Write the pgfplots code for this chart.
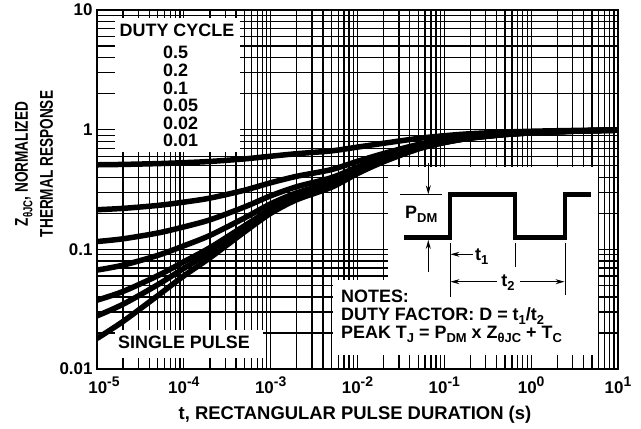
\documentclass[border=0pt]{standalone}
\usepackage{fontspec}
\setmainfont{Liberation Sans}
\usepackage{graphicx}
\usepackage{pgfplots}
\pgfplotsset{compat=1.18}
\usetikzlibrary{arrows.meta}
\newcommand\sub[1]{\raisebox{-0.24em}{\fontsize{13}{13}\selectfont #1}}
\newcommand\tsup[1]{10\raisebox{0.42em}{\fontsize{14}{14}\selectfont #1}}
\newcommand\fs[1]{\fontsize{#1}{#1}\selectfont\bfseries}
\begin{document}
\begin{tikzpicture}
\useasboundingbox (0,0) rectangle (641bp,-429bp);
\begin{axis}[
  at={(97bp,-369bp)}, anchor=south west,
  scale only axis, width=521bp, height=359bp,
  xmode=log, ymode=log,
  xmin=1e-5, xmax=10, ymin=0.01, ymax=10,
  xtick={1e-5,1e-4,1e-3,1e-2,1e-1,1,10},
  xticklabels={\hspace*{14bp}\tsup{-5},\tsup{-4},\tsup{-3},\tsup{-2},\tsup{-1},\tsup{0},\tsup{1}},
  ytick={0.01,0.1,1,10}, yticklabels={0.01,0.1,1,10},
  minor xtick={2e-5,3e-5,4e-5,5e-5,6e-5,7e-5,8e-5,9e-5,
               2e-4,3e-4,4e-4,5e-4,6e-4,7e-4,8e-4,9e-4,
               2e-3,3e-3,4e-3,5e-3,6e-3,7e-3,8e-3,9e-3,
               2e-2,3e-2,4e-2,5e-2,6e-2,7e-2,8e-2,9e-2,
               0.2,0.3,0.4,0.5,0.6,0.7,0.8,0.9,
               2,3,4,5,6,7,8,9},
  minor ytick={0.02,0.03,0.04,0.05,0.06,0.07,0.08,0.09,
               0.2,0.3,0.4,0.5,0.6,0.7,0.8,0.9,
               2,3,4,5,6,7,8,9},
  grid=both,
  major grid style={line width=1.3bp, black},
  minor grid style={line width=1.3bp, black},
  major tick length=0pt, minor tick length=0pt,
  axis line style={line width=1.8bp},
  tick label style={font=\fs{17}},
  xticklabel style={yshift=-4bp},
  yticklabel style={xshift=-1bp},
  zc/.style={black, no markers, line width=5.5bp, smooth, tension=0.5, line cap=butt},
]
% white annotation boxes
\fill[white] (rel axis cs:0.0345,0.6045) rectangle (rel axis cs:0.2745,0.9777);
\fill[white] (rel axis cs:0.0345,0.0306) rectangle (rel axis cs:0.3186,0.1086);
\fill[white] (rel axis cs:0.5585,0.2479) rectangle (rel axis cs:0.9616,0.5627);
\fill[white] (rel axis cs:0.4530,0.0390) rectangle (rel axis cs:0.9616,0.2479);
% D = 0.5
\addplot[zc] coordinates {(1e-5,0.509)(2e-5,0.5125)(5e-5,0.5205)(1e-4,0.53)(2e-4,0.5425)(5e-4,0.57)(1e-3,0.60)(2e-3,0.63)(5e-3,0.665)(1e-2,0.715)(2e-2,0.77)(5e-2,0.845)(1e-1,0.89)(2e-1,0.925)(5e-1,0.955)(1,0.97)(2,0.98)(5,0.99)(10,0.995)};
% D = 0.2
\addplot[zc] coordinates {(1e-5,0.2144)(2e-5,0.22)(5e-5,0.2328)(1e-4,0.248)(2e-4,0.268)(5e-4,0.312)(1e-3,0.36)(2e-3,0.408)(5e-3,0.464)(1e-2,0.544)(2e-2,0.632)(5e-2,0.752)(1e-1,0.824)(2e-1,0.88)(5e-1,0.928)(1,0.952)(2,0.968)(5,0.984)(10,0.992)};
% D = 0.1
\addplot[zc] coordinates {(1e-5,0.1162)(2e-5,0.1225)(5e-5,0.1369)(1e-4,0.154)(2e-4,0.1765)(5e-4,0.226)(1e-3,0.28)(2e-3,0.334)(5e-3,0.397)(1e-2,0.487)(2e-2,0.586)(5e-2,0.721)(1e-1,0.802)(2e-1,0.865)(5e-1,0.919)(1,0.946)(2,0.964)(5,0.982)(10,0.991)};
% D = 0.05
\addplot[zc] coordinates {(1e-5,0.0671)(2e-5,0.0738)(5e-5,0.089)(1e-4,0.107)(2e-4,0.1308)(5e-4,0.183)(1e-3,0.24)(2e-3,0.297)(5e-3,0.3635)(1e-2,0.4585)(2e-2,0.563)(5e-2,0.7055)(1e-1,0.791)(2e-1,0.8575)(5e-1,0.9145)(1,0.943)(2,0.962)(5,0.981)(10,0.9905)};
% D = 0.02
\addplot[zc] coordinates {(1e-5,0.0376)(2e-5,0.0445)(5e-5,0.0602)(1e-4,0.0788)(2e-4,0.1033)(5e-4,0.1572)(1e-3,0.216)(2e-3,0.2748)(5e-3,0.3434)(1e-2,0.4414)(2e-2,0.5492)(5e-2,0.6962)(1e-1,0.7844)(2e-1,0.853)(5e-1,0.9118)(1,0.9412)(2,0.9608)(5,0.9804)(10,0.9902)};
% D = 0.01
\addplot[zc] coordinates {(1e-5,0.0278)(2e-5,0.0348)(5e-5,0.0506)(1e-4,0.0694)(2e-4,0.0942)(5e-4,0.1486)(1e-3,0.208)(2e-3,0.2674)(5e-3,0.3367)(1e-2,0.4357)(2e-2,0.5446)(5e-2,0.6931)(1e-1,0.7822)(2e-1,0.8515)(5e-1,0.9109)(1,0.9406)(2,0.9604)(5,0.9802)(10,0.9901)};
% single pulse
\addplot[zc] coordinates {(1e-5,0.018)(2e-5,0.025)(5e-5,0.041)(1e-4,0.06)(2e-4,0.085)(5e-4,0.14)(1e-3,0.2)(2e-3,0.26)(5e-3,0.33)(1e-2,0.43)(2e-2,0.54)(5e-2,0.69)(1e-1,0.78)(2e-1,0.85)(5e-1,0.91)(1,0.94)(2,0.96)(5,0.98)(10,0.99)};
\end{axis}
\begin{scope}[x=1bp,y=-1bp]
% axis labels
\node[rotate=90, align=center, font=\fontsize{18.5}{25}\selectfont\bfseries] at (34,164) {\scalebox{0.74}[1]{Z\sub{θJC}, NORMALIZED}\\\scalebox{0.74}[1]{THERMAL RESPONSE}};
\node[anchor=base, font=\fs{18.5}] at (355,419) {t, RECTANGULAR PULSE DURATION (s)};
% duty cycle box
\node[anchor=base, font=\fs{18}] at (177,36.7) {DUTY CYCLE};
\foreach \v/\yy in {0.5/58.3,0.2/76.7,0.1/94,0.05/111.7,0.02/129.3,0.01/146.7}
  \node[anchor=base west, inner sep=0pt, font=\fs{18}] at (163,\yy) {\v};
\node[anchor=base west, inner sep=0pt, font=\fs{18}] at (118,348.3) {SINGLE PULSE};
% notes
\node[anchor=base west, inner sep=0pt, font=\fs{18}] at (341,302) {NOTES:};
\node[anchor=base west, inner sep=0pt, font=\fs{18}] at (341,320) {DUTY FACTOR: D = t\sub{1}/t\sub{2}};
\node[anchor=base west, inner sep=0pt, font=\fs{18}] at (341,338.5) {PEAK T\sub{J} = P\sub{DM} x Z\sub{θJC} + T\sub{C}};
% waveform
\draw[line width=4.5bp, line join=miter] (404,237.3) -- (450,237.3) -- (450,194.3) -- (515,194.3) -- (515,237.3) -- (565,237.3) -- (565,194.3) -- (591,194.3);
\draw[line width=1bp] (400,194.3) -- (442,194.3);
\draw[line width=1bp, -{Stealth[length=9bp,width=5bp,inset=3bp]}] (428.3,163) -- (428.3,194.3);
\draw[line width=1bp, -{Stealth[length=9bp,width=5bp,inset=3bp]}] (428.3,271.7) -- (428.3,240);
\node[anchor=base west, inner sep=0pt, font=\fs{18}] at (405,218.3) {P\sub{DM}};
\draw[line width=1bp] (450,243) -- (450,296.7);
\draw[line width=1bp] (515,243) -- (515,267);
\draw[line width=1bp] (565,243) -- (565,295);
\draw[line width=1bp, -{Stealth[length=9bp,width=5bp,inset=3bp]}] (473,254.3) -- (450.5,254.3);
\node[anchor=base west, inner sep=0pt, font=\fs{18}] at (475,260.5) {t\sub{1}};
\draw[line width=1bp, -{Stealth[length=9bp,width=5bp,inset=3bp]}] (497,281.7) -- (450.5,281.7);
\draw[line width=1bp, -{Stealth[length=9bp,width=5bp,inset=3bp]}] (520,281.7) -- (564.5,281.7);
\node[anchor=base, inner sep=0pt, font=\fs{18}] at (508,286) {t\sub{2}};
\end{scope}
\end{tikzpicture}
\end{document}
